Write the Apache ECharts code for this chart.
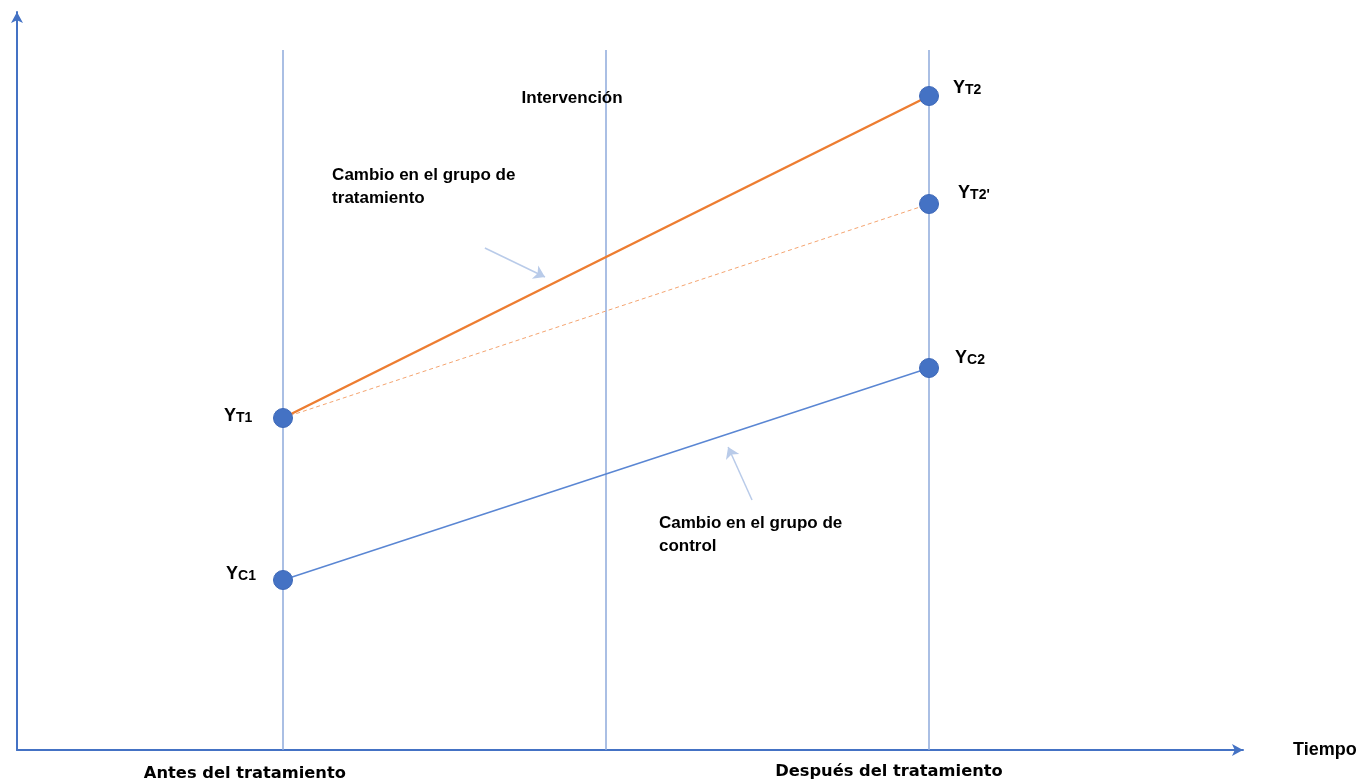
<!DOCTYPE html>
<html><head><meta charset="utf-8">
<script src="https://cdn.jsdelivr.net/npm/echarts@6/dist/echarts.min.js"></script>
<style>html,body{margin:0;padding:0;background:#fff}#c{width:1365px;height:784px}</style>
</head><body><div id="c"></div>
<script>
// Time positions (x) of the three vertical reference lines
const periodX = [1, 2, 3];
const periodTop = 7.0;
// Outcome values
const treatValues = [3.32, 6.54];        // YT1 -> YT2
const counterValues = [3.32, 5.46];      // YT1 -> YT2'
const controlValues = [1.70, 3.82];      // YC1 -> YC2
const pointNames = ['T1','C1','T2',"T2'",'C2'];
const pointX = [1, 1, 3, 3, 3];
const pointY = [3.32, 1.70, 6.54, 5.46, 3.82];
// label anchor positions for point names
const pointLabelX = [0.861, 0.870, 3.118, 3.139, 3.127];
const pointLabelY = [3.34, 1.76, 6.62, 5.57, 3.92];
// free text annotations
const noteTexts = ['Intervención', 'Cambio en el grupo de\ntratamiento', 'Cambio en el grupo de\ncontrol', 'Antes del tratamiento', 'Después del tratamiento'];
const noteX = [1.895, 1.152, 2.164, 0.882, 2.876];
const noteY = [6.52, 5.63, 2.155, -0.24, -0.22];
const noteAlign = ['center', 'left', 'left', 'center', 'center'];
const noteSize = [17, 17, 17, 16.3, 16.3];
const noteFontIdx = [0, 0, 0, 1, 1];
// pointer arrows
const arrowFrom = [[1.625, 5.02], [2.452, 2.50]];
const arrowTo = [[1.811, 4.73], [2.378, 3.03]];

const chart = echarts.init(document.getElementById('c'));
const fonts = ['"Liberation Sans", Arial, sans-serif', '"DejaVu Sans", sans-serif'];
const axisColor = '#4472C4';

const option = {
  animation: false,
  grid: { left: 17, right: 122, top: 12, bottom: 34 },
  xAxis: {
    type: 'value', min: 0.1765, max: 3.972,
    axisLine: { show: true, onZero: false, symbol: ['none', 'arrow'], symbolSize: [9, 11], lineStyle: { color: axisColor, width: 2 } },
    axisTick: { show: false }, axisLabel: { show: false }, splitLine: { show: false },
    name: 'Tiempo', nameLocation: 'end', nameGap: 50,
    nameTextStyle: { fontFamily: fonts[0], fontWeight: 'bold', fontSize: 18, color: '#000', verticalAlign: 'middle', padding: [0, 0, 10, 0] }
  },
  yAxis: {
    type: 'value', min: 0, max: 7.38,
    axisLine: { show: true, symbol: ['none', 'arrow'], symbolSize: [9, 11], lineStyle: { color: axisColor, width: 2 } },
    axisTick: { show: false }, axisLabel: { show: false }, splitLine: { show: false }
  },
  series: [
    {
      type: 'lines', coordinateSystem: 'cartesian2d', silent: true, z: 1,
      lineStyle: { color: '#8eaadb', width: 1.5, opacity: 1 },
      data: periodX.map(x => ({ coords: [[x, 0], [x, periodTop]] }))
    },
    {
      type: 'line', silent: true, symbol: 'none', z: 3,
      lineStyle: { color: '#ED7D31', width: 2.5 },
      data: [[1, treatValues[0]], [3, treatValues[1]]]
    },
    {
      type: 'line', silent: true, symbol: 'none', z: 3,
      lineStyle: { color: '#F4A470', width: 1, type: [4, 3] },
      data: [[1, counterValues[0]], [3, counterValues[1]]]
    },
    {
      type: 'line', silent: true, symbol: 'none', z: 3,
      lineStyle: { color: '#5a86d3', width: 1.5 },
      data: [[1, controlValues[0]], [3, controlValues[1]]]
    },
    {
      type: 'lines', coordinateSystem: 'cartesian2d', silent: true, z: 2,
      symbol: ['none', 'arrow'], symbolSize: 11,
      lineStyle: { color: '#b9cbe9', width: 1.5, opacity: 1 },
      data: arrowFrom.map((f, i) => ({ coords: [f, arrowTo[i]] }))
    },
    {
      type: 'scatter', silent: true, z: 5, symbolSize: 19,
      itemStyle: { color: '#4472C4', opacity: 1, borderColor: '#3d68b8', borderWidth: 1 },
      data: pointX.map((x, i) => [x, pointY[i]])
    },
    {
      type: 'scatter', silent: true, z: 6, symbolSize: 0, clip: false,
      itemStyle: { opacity: 1 },
      data: pointLabelX.map((x, i) => ({ value: [x, pointLabelY[i]], name: pointNames[i] })),
      label: {
        show: true, position: 'inside',
        formatter: p => '{y|Y}{s|' + p.name + '}',
        rich: {
          y: { fontFamily: fonts[0], fontWeight: 'bold', fontSize: 18, color: '#000', verticalAlign: 'bottom', lineHeight: 18 },
          s: { fontFamily: fonts[0], fontWeight: 'bold', fontSize: 14, color: '#000', verticalAlign: 'bottom', lineHeight: 18 }
        }
      }
    },
    {
      type: 'scatter', silent: true, z: 6, symbolSize: 0, clip: false,
      itemStyle: { opacity: 1 },
      data: noteX.map((x, i) => ({ value: [x, noteY[i]], name: noteTexts[i], label: { align: noteAlign[i], fontSize: noteSize[i], fontFamily: fonts[noteFontIdx[i]] } })),
      label: {
        show: true, position: 'inside', formatter: p => p.name,
        fontWeight: 'bold', color: '#000', lineHeight: 23
      }
    }
  ]
};
chart.setOption(option);
</script></body></html>
